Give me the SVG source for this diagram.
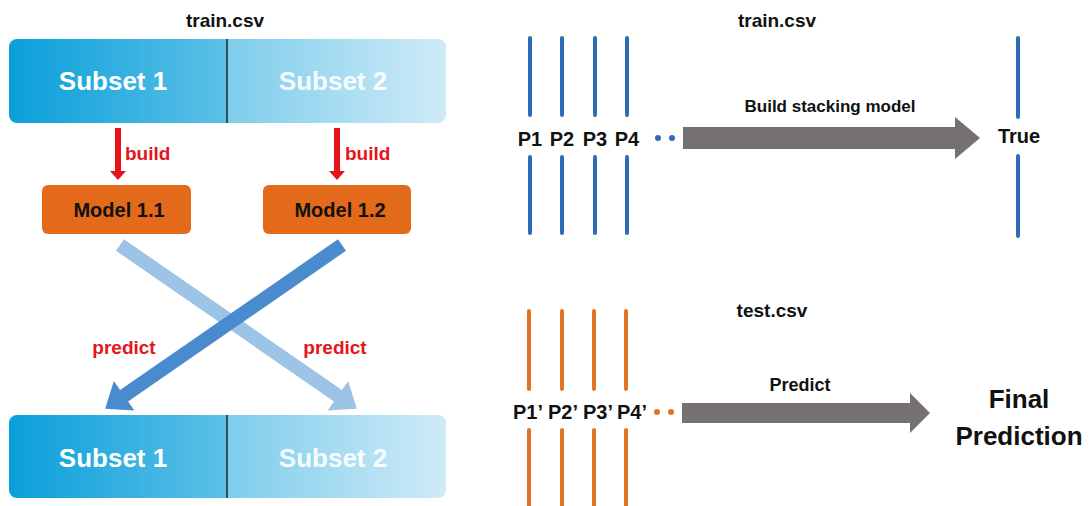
<svg xmlns="http://www.w3.org/2000/svg" width="1089" height="506" viewBox="0 0 1089 506">
<defs>
<linearGradient id="gL" x1="0" y1="0" x2="1" y2="0"><stop offset="0" stop-color="#0a9fd9"/><stop offset="1" stop-color="#5cc0e7"/></linearGradient>
<linearGradient id="gR" x1="0" y1="0" x2="1" y2="0"><stop offset="0" stop-color="#7ecdec"/><stop offset="1" stop-color="#cfebf7"/></linearGradient>
<clipPath id="cTop"><rect x="9" y="39" width="437" height="84" rx="8"/></clipPath>
<clipPath id="cBot"><rect x="9" y="415" width="437" height="83" rx="8"/></clipPath>
</defs>
<style>
text{font-family:"Liberation Sans",Arial,sans-serif;font-weight:bold}
.sub{font-size:26px;fill:#fff;text-anchor:middle}
.sub2{font-size:26px;fill:#fff;fill-opacity:0.92;text-anchor:middle}
.hdr{font-size:19px;fill:#111;text-anchor:middle}
.red{font-size:19px;fill:#e5141b}
.redc{font-size:19px;fill:#e5141b;text-anchor:middle}
.model{fill:#e26a1a}
.mtxt{font-size:20px;fill:#111;text-anchor:middle}
.lbl{font-size:20px;fill:#111;text-anchor:middle}
.lbls{font-size:20px;fill:#111}
.blue{stroke:#2d6db3;stroke-width:4;stroke-linecap:round;fill:none}
.orng{stroke:#e07424;stroke-width:4;stroke-linecap:round;fill:none}
.gray{fill:#767171}
.div{stroke:#222;stroke-width:1.5}
</style>

<g id="top-bar">
<text class="hdr" x="225" y="27">train.csv</text>
<g clip-path="url(#cTop)">
<rect x="9" y="39" width="218" height="84" fill="url(#gL)"/>
<rect x="227" y="39" width="219" height="84" fill="url(#gR)"/>
</g>
<line class="div" x1="227" y1="39" x2="227" y2="123"/>
<text class="sub" x="113" y="90">Subset 1</text>
<text class="sub2" x="333" y="90">Subset 2</text>
</g>

<g id="model-1-1">
<rect class="model" x="42" y="185" width="149" height="49" rx="6"/>
<text class="mtxt" x="119" y="217">Model 1.1</text>
</g>
<g id="model-1-2">
<rect class="model" x="263" y="185" width="148" height="49" rx="6"/>
<text class="mtxt" x="340" y="217">Model 1.2</text>
</g>

<g id="bottom-bar">
<g clip-path="url(#cBot)">
<rect x="9" y="415" width="218" height="83" fill="url(#gL)"/>
<rect x="227" y="415" width="219" height="83" fill="url(#gR)"/>
</g>
<line class="div" x1="227" y1="415" x2="227" y2="498"/>
<text class="sub" x="113" y="467">Subset 1</text>
<text class="sub2" x="333" y="467">Subset 2</text>
</g>

<g id="connectors">
<polygon fill="#e5141b" points="115,128 121,128 121,171 126,171 118,180 110,171 115,171"/>
<text class="red" x="125" y="160">build</text>
<polygon fill="#e5141b" points="334,128 340,128 340,171 345,171 337,180 329,171 334,171"/>
<text class="red" x="345" y="160">build</text>
<path fill="#9dc3e6" transform="translate(120,245) rotate(34.68)" d="M0,-7 L265,-7 L265,-18 L288,0 L265,18 L265,7 L0,7 Z"/>
<path fill="#4a8bcf" transform="translate(342,245) rotate(145.32)" d="M0,-7 L265,-7 L265,-18 L288,0 L265,18 L265,7 L0,7 Z"/>
<text class="redc" x="124" y="354">predict</text>
<text class="redc" x="335" y="354">predict</text>
</g>

<g id="train-features">
<text class="hdr" x="777" y="27">train.csv</text>
<path class="blue" d="M530,38V115M562,38V115M595,38V115M627,38V115M530,157V233M562,157V233M595,157V233M627,157V233"/>
<text class="lbl" x="530" y="146">P1</text>
<text class="lbl" x="562" y="146">P2</text>
<text class="lbl" x="595" y="146">P3</text>
<text class="lbl" x="627" y="146">P4</text>
<circle cx="658" cy="138" r="3" fill="#2d6db3"/>
<circle cx="672" cy="138" r="3" fill="#2d6db3"/>
</g>

<g id="stack-arrow">
<polygon class="gray" points="683,127 955,127 955,117 980,138 955,159 955,149 683,149"/>
<text class="hdr" x="830" y="112" style="font-size:17px">Build stacking model</text>
</g>

<g id="true">
<path class="blue" d="M1018,38V117M1018,156V236"/>
<text class="lbl" x="1019" y="143">True</text>
</g>

<g id="test-features">
<text class="hdr" x="772" y="317">test.csv</text>
<path class="orng" d="M529,311V389M562,311V389M594,311V389M626,311V389M529,430V510M562,430V510M594,430V510M626,430V510"/>
<text class="lbls" x="513" y="419">P1’</text>
<text class="lbls" x="548" y="419">P2’</text>
<text class="lbls" x="583" y="419">P3’</text>
<text class="lbls" x="617" y="419">P4’</text>
<circle cx="657" cy="412" r="3" fill="#e07424"/>
<circle cx="671" cy="412" r="3" fill="#e07424"/>
</g>

<g id="predict-arrow">
<polygon class="gray" points="682,403 910,403 910,393 930,413 910,433 910,423 682,423"/>
<text class="hdr" x="800" y="391" style="font-size:18px">Predict</text>
</g>

<g id="final">
<text class="lbl" x="1019" y="408" style="font-size:26px">Final</text>
<text class="lbl" x="1019" y="445" style="font-size:26px">Prediction</text>
</g>
</svg>
